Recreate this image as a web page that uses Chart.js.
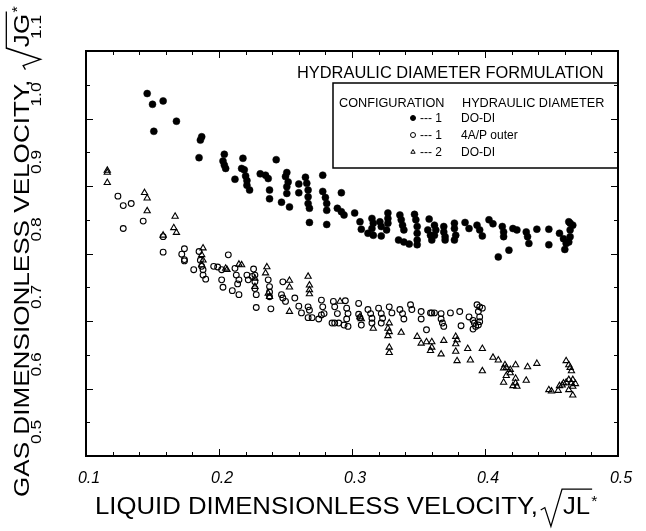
<!DOCTYPE html>
<html>
<head>
<meta charset="utf-8">
<script src="https://cdn.jsdelivr.net/npm/chart.js@4"></script>
<style>
    html, body { margin: 0; padding: 0; background: #fff; }
    #wrap { width: 646px; height: 531px; }
</style>
</head>
<body>
<div id="wrap"><canvas id="chart" width="646" height="531"></canvas></div>
<script>
// ------------------------------------------
// Data: [JL*^0.5, JG*^0.5]
// ------------------------------------------

// Configuration 1, DO-DI (filled circles)
const solidPts = [
    [0.146,1.037],[0.150,1.021],[0.158,1.026],[0.168,0.996],[0.151,0.981],[0.186,0.968],[0.187,0.973],
    [0.185,0.942],[0.204,0.947],[0.203,0.937],[0.204,0.931],[0.205,0.926],[0.218,0.941],[0.243,0.939],
    [0.212,0.910],[0.217,0.926],[0.219,0.924],[0.220,0.915],[0.221,0.908],[0.221,0.901],[0.223,0.894],
    [0.231,0.918],[0.235,0.916],[0.237,0.911],[0.238,0.894],[0.238,0.881],[0.251,0.920],[0.250,0.914],
    [0.252,0.906],[0.251,0.899],[0.251,0.889],[0.247,0.876],[0.253,0.869],[0.260,0.903],[0.260,0.890],
    [0.265,0.913],[0.266,0.904],[0.267,0.894],[0.267,0.884],[0.267,0.874],[0.268,0.867],[0.268,0.846],
    [0.278,0.916],[0.278,0.892],[0.280,0.883],[0.281,0.874],[0.281,0.864],[0.281,0.843],[0.292,0.890],
    [0.289,0.867],[0.292,0.862],[0.294,0.857],[0.302,0.860],[0.306,0.847],[0.307,0.836],[0.312,0.830],
    [0.316,0.827],[0.315,0.852],[0.316,0.845],[0.315,0.837],[0.322,0.826],[0.321,0.847],[0.322,0.840],
    [0.327,0.860],[0.327,0.852],[0.327,0.845],[0.326,0.835],[0.336,0.857],[0.337,0.850],[0.338,0.842],
    [0.339,0.835],[0.335,0.820],[0.339,0.817],[0.343,0.814],[0.347,0.858],[0.348,0.850],[0.349,0.840],
    [0.349,0.830],[0.349,0.820],[0.349,0.813],[0.358,0.851],[0.357,0.835],[0.359,0.827],[0.360,0.820],
    [0.362,0.842],[0.363,0.835],[0.362,0.827],[0.369,0.840],[0.369,0.832],[0.370,0.825],[0.370,0.820],
    [0.377,0.845],[0.377,0.837],[0.378,0.827],[0.377,0.820],[0.385,0.846],[0.388,0.837],[0.394,0.842],
    [0.396,0.835],[0.398,0.826],[0.403,0.850],[0.406,0.844],[0.413,0.840],[0.414,0.832],[0.414,0.825],
    [0.410,0.795],[0.418,0.805],[0.421,0.837],[0.424,0.835],[0.431,0.832],[0.432,0.825],[0.433,0.815],
    [0.439,0.836],[0.448,0.836],[0.448,0.813],[0.456,0.830],[0.459,0.822],[0.460,0.806],[0.463,0.847],
    [0.464,0.845],[0.466,0.842],[0.464,0.835],[0.464,0.825],[0.463,0.817],[0.461,0.815]
];

// Configuration 1, 4A/P outer (open circles)
const openPts = [
    [0.124,0.885],[0.128,0.871],[0.134,0.874],[0.128,0.837],[0.143,0.848],[0.158,0.825],[0.158,0.802],
    [0.174,0.807],[0.172,0.799],[0.174,0.791],[0.174,0.789],[0.181,0.776],[0.185,0.803],[0.186,0.790],
    [0.187,0.781],[0.188,0.776],[0.188,0.768],[0.190,0.762],[0.207,0.798],[0.196,0.781],[0.199,0.780],
    [0.202,0.776],[0.202,0.761],[0.203,0.750],[0.210,0.745],[0.215,0.739],[0.212,0.778],[0.213,0.768],
    [0.215,0.761],[0.214,0.755],[0.221,0.768],[0.222,0.761],[0.225,0.766],[0.226,0.777],[0.227,0.768],
    [0.227,0.758],[0.227,0.748],[0.228,0.739],[0.228,0.720],[0.237,0.761],[0.238,0.751],[0.238,0.743],
    [0.238,0.736],[0.239,0.718],[0.248,0.758],[0.247,0.739],[0.248,0.734],[0.250,0.729],[0.257,0.734],
    [0.260,0.722],[0.262,0.712],[0.267,0.705],[0.270,0.705],[0.275,0.703],[0.267,0.721],[0.268,0.716],
    [0.277,0.731],[0.278,0.721],[0.279,0.711],[0.277,0.709],[0.286,0.729],[0.287,0.721],[0.289,0.711],
    [0.287,0.697],[0.285,0.697],[0.290,0.697],[0.294,0.694],[0.295,0.730],[0.296,0.719],[0.297,0.711],
    [0.296,0.703],[0.297,0.692],[0.305,0.726],[0.305,0.710],[0.306,0.705],[0.307,0.694],[0.312,0.717],
    [0.314,0.711],[0.315,0.704],[0.315,0.697],[0.320,0.719],[0.322,0.711],[0.323,0.704],[0.322,0.697],
    [0.328,0.721],[0.330,0.712],[0.336,0.717],[0.338,0.711],[0.339,0.703],[0.344,0.724],[0.345,0.717],
    [0.352,0.714],[0.352,0.703],[0.359,0.712],[0.360,0.712],[0.362,0.712],[0.367,0.711],[0.367,0.703],
    [0.368,0.697],[0.374,0.712],[0.356,0.687],[0.369,0.692],[0.381,0.714],[0.382,0.693],[0.388,0.706],
    [0.391,0.701],[0.392,0.697],[0.393,0.692],[0.391,0.688],[0.394,0.724],[0.396,0.721],[0.398,0.719],
    [0.395,0.714],[0.396,0.706],[0.396,0.699],[0.395,0.694]
];

// Configuration 2, DO-DI (open triangles)
const triPts = [
    [0.116,0.923],[0.116,0.920],[0.116,0.905],[0.144,0.890],[0.146,0.882],[0.146,0.863],[0.167,0.855],
    [0.166,0.838],[0.168,0.831],[0.158,0.827],[0.188,0.808],[0.187,0.798],[0.188,0.790],[0.187,0.783],
    [0.205,0.778],[0.206,0.776],[0.215,0.784],[0.217,0.783],[0.236,0.780],[0.235,0.771],[0.227,0.763],
    [0.227,0.751],[0.237,0.741],[0.238,0.736],[0.253,0.760],[0.253,0.750],[0.267,0.766],[0.268,0.753],
    [0.268,0.746],[0.268,0.740],[0.253,0.714],[0.291,0.729],[0.306,0.706],[0.307,0.703],[0.316,0.689],
    [0.328,0.697],[0.327,0.689],[0.328,0.684],[0.327,0.678],[0.328,0.661],[0.328,0.653],[0.337,0.683],
    [0.349,0.677],[0.352,0.667],[0.356,0.669],[0.360,0.669],[0.360,0.661],[0.359,0.656],[0.367,0.651],
    [0.369,0.671],[0.378,0.677],[0.379,0.672],[0.378,0.666],[0.378,0.655],[0.379,0.641],[0.387,0.659],
    [0.389,0.642],[0.398,0.659],[0.398,0.626],[0.406,0.646],[0.410,0.642],[0.415,0.635],[0.414,0.630],
    [0.416,0.631],[0.419,0.628],[0.419,0.623],[0.416,0.619],[0.423,0.635],[0.432,0.632],[0.439,0.637],
    [0.423,0.615],[0.423,0.608],[0.424,0.603],[0.421,0.604],[0.414,0.609],[0.431,0.612],[0.448,0.598],
    [0.450,0.596],[0.455,0.597],[0.456,0.604],[0.458,0.605],[0.461,0.641],[0.463,0.635],[0.464,0.631],
    [0.465,0.626],[0.463,0.613],[0.465,0.608],[0.466,0.613],[0.468,0.607],[0.466,0.603],[0.463,0.598],
    [0.466,0.590],[0.459,0.608],[0.461,0.609]
];

// Axis ticks and labels
const xTickValues = [0.1, 0.2, 0.3, 0.4, 0.5];
const xTickLabels = ['0.1', '0.2', '0.3', '0.4', '0.5'];
const yTickValues = [0.5, 0.6, 0.7, 0.8, 0.9, 1.0, 1.1];
const yTickLabels = ['0.5', '0.6', '0.7', '0.8', '0.9', '1.0', '1.1'];

// Legend text
const legendTitle = 'HYDRAULIC DIAMETER FORMULATION';
const legendHeader = ['CONFIGURATION', 'HYDRAULIC DIAMETER'];
const legendConfig = ['1', '1', '2'];
const legendDiameter = ['DO-DI', '4A/P outer', 'DO-DI'];

const xTitle = 'LIQUID DIMENSIONLESS VELOCITY,';
const yTitle = 'GAS DIMENSIONLESS VELOCITY,';

const FONT = '"Liberation Sans", Arial, Helvetica, sans-serif';

function toXY(pts) {
    return pts.map(p => ({ x: p[0], y: p[1] }));
}

// ------------------------------------------
// Title with a drawn square root over the symbol
// ------------------------------------------
function drawRootTitle(ctx, main, root, fontPx) {
    ctx.font = fontPx + 'px ' + FONT;
    ctx.textAlign = 'left';
    ctx.textBaseline = 'alphabetic';
    ctx.fillText(main, 0, 0);
    const cap = fontPx * 0.72;
    const x = ctx.measureText(main).width + cap * 0.15;
    const rootW = ctx.measureText(root).width;
    const top = -cap * 1.4;

    // radical sign
    ctx.lineWidth = 1.3;
    ctx.beginPath();
    ctx.moveTo(x, -cap * 0.22);
    ctx.lineTo(x + cap * 0.22, -cap * 0.36);
    ctx.lineTo(x + cap * 0.55, cap * 0.7);
    ctx.lineTo(x + cap * 1.15, top);
    ctx.lineTo(x + cap * 1.2 + rootW + 2, top);
    ctx.stroke();

    ctx.fillText(root, x + cap * 1.2, 0);
    ctx.font = Math.round(fontPx * 0.6) + 'px ' + FONT;
    ctx.fillText('*', x + cap * 1.2 + rootW + 1, -cap * 0.45);
}

const datasets = [
    {
        label: 'DO-DI (1)',
        data: toXY(solidPts),
        pointStyle: 'circle',
        pointRadius: 3.5,
        backgroundColor: '#000',
        borderColor: '#000',
        borderWidth: 0.5
    },
    {
        label: '4A/P outer (1)',
        data: toXY(openPts),
        pointStyle: 'circle',
        pointRadius: 2.9,
        backgroundColor: 'rgba(0,0,0,0)',
        borderColor: '#000',
        borderWidth: 1.1
    },
    {
        label: 'DO-DI (2)',
        data: toXY(triPts),
        pointStyle: 'triangle',
        pointRadius: 3.6,
        backgroundColor: 'rgba(0,0,0,0)',
        borderColor: '#000',
        borderWidth: 1.1
    }
];

// ------------------------------------------
// Frame, inward ticks, labels, titles, legend box
// ------------------------------------------
const figurePlugin = {
    id: 'figure',
    afterDraw(chart) {
        const ctx = chart.ctx;
        const a = chart.chartArea;
        const xs = chart.scales.x;
        const ys = chart.scales.y;

        ctx.save();
        ctx.fillStyle = '#000';
        ctx.strokeStyle = '#000';

        // inward ticks: x every 0.02, y every 0.05
        ctx.lineWidth = 1;
        ctx.beginPath();
        for (let i = 0; i <= 20; i++) {
            const px = Math.round(xs.getPixelForValue(xs.min + i * 0.02)) + 0.5;
            const len = i % 5 === 0 ? 7 : 4;
            ctx.moveTo(px, a.bottom); ctx.lineTo(px, a.bottom - len);
            ctx.moveTo(px, a.top); ctx.lineTo(px, a.top + len);
        }
        for (let i = 0; i <= 12; i++) {
            const py = Math.round(ys.getPixelForValue(ys.min + i * 0.05)) + 0.5;
            const len = i % 2 === 0 ? 7 : 4;
            ctx.moveTo(a.left, py); ctx.lineTo(a.left + len, py);
            ctx.moveTo(a.right, py); ctx.lineTo(a.right - len, py);
        }
        ctx.stroke();

        // frame
        ctx.lineWidth = 2;
        ctx.strokeRect(a.left, a.top, a.right - a.left, a.bottom - a.top);

        // x tick labels (italic)
        ctx.font = 'italic 16px ' + FONT;
        ctx.textAlign = 'center';
        ctx.textBaseline = 'middle';
        xTickValues.forEach((v, i) => {
            ctx.fillText(xTickLabels[i], xs.getPixelForValue(v) + 3, 479);
        });

        // y tick labels (rotated)
        yTickValues.forEach((v, i) => {
            ctx.save();
            ctx.translate(37, ys.getPixelForValue(v) - 24);
            ctx.scale(1, 1.16);
            ctx.rotate(-Math.PI / 2);
            ctx.font = '15px ' + FONT;
            ctx.textAlign = 'center';
            ctx.textBaseline = 'middle';
            ctx.fillText(yTickLabels[i], 0, 0);
            ctx.restore();
        });

        // axis titles
        ctx.save();
        ctx.translate(95, 514);
        ctx.scale(0.99, 0.95);
        drawRootTitle(ctx, xTitle, 'JL', 26);
        ctx.restore();

        ctx.save();
        ctx.translate(29, 497);
        ctx.scale(1, 1.16);
        ctx.rotate(-Math.PI / 2);
        drawRootTitle(ctx, yTitle + ' ', 'JG', 22.5);
        ctx.restore();

        // legend
        ctx.textAlign = 'left';
        ctx.textBaseline = 'alphabetic';
        ctx.font = '16.4px ' + FONT;
        ctx.fillText(legendTitle, 297, 78);

        ctx.lineWidth = 1.5;
        ctx.strokeRect(333, 83, a.right - 333, 85);

        ctx.font = '12.7px ' + FONT;
        ctx.fillText(legendHeader[0], 339, 106.5);
        ctx.fillText(legendHeader[1], 462, 106.5);

        ctx.font = '12px ' + FONT;
        datasets.forEach((ds, i) => {
            const y = 118 + i * 17;
            ctx.fillStyle = ds.backgroundColor === '#000' ? '#000' : '#fff';
            ctx.strokeStyle = '#000';
            ctx.lineWidth = 1;
            Chart.helpers.drawPoint(ctx, {
                pointStyle: ds.pointStyle,
                radius: 2.5,
                borderWidth: 1,
                rotation: 0
            }, 413, y);
            ctx.fillStyle = '#000';
            ctx.fillText('--- ' + legendConfig[i], 420, y + 4.3);
            ctx.fillText(legendDiameter[i], 461, y + 4.3);
        });

        ctx.restore();
    }
};

new Chart(document.getElementById('chart'), {
    type: 'scatter',
    data: { datasets },
    options: {
        responsive: false,
        animation: false,
        layout: { padding: { top: 51, right: 28, left: 0, bottom: 0 } },
        plugins: {
            legend: { display: false },
            tooltip: { enabled: false }
        },
        scales: {
            x: {
                type: 'linear',
                min: 0.1,
                max: 0.5,
                grid: { display: false },
                border: { display: false },
                ticks: { display: false },
                afterFit: s => { s.height = 75; }
            },
            y: {
                type: 'linear',
                min: 0.5,
                max: 1.1,
                grid: { display: false },
                border: { display: false },
                ticks: { display: false },
                afterFit: s => { s.width = 86; }
            }
        }
    },
    plugins: [figurePlugin]
});
</script>
</body>
</html>
